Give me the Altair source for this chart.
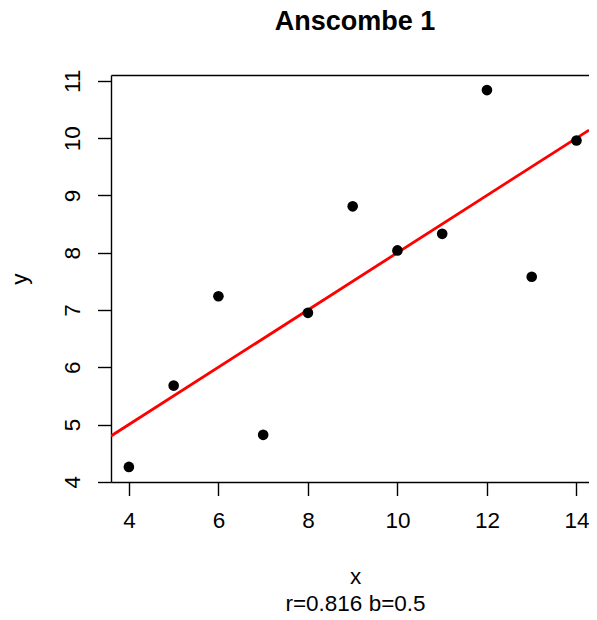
import altair as alt
import pandas as pd

# Anscombe quartet, set 1
x_vals = [10, 8, 13, 9, 11, 14, 6, 4, 12, 7, 5]
y_vals = [8.04, 6.95, 7.58, 8.81, 8.33, 9.96, 7.24, 4.26, 10.84, 4.82, 5.68]
x_ticks = [4, 6, 8, 10, 12, 14]
y_ticks = [4, 5, 6, 7, 8, 9, 10, 11]
x_domain = [3.6, 14.28]
y_domain = [3.9968, 11.1032]
main_title = "Anscombe 1"
x_title = "x"
sub_title = "r=0.816 b=0.5"
y_title = "y"

df = pd.DataFrame({"x": x_vals, "y": y_vals})

FONT = "Liberation Sans"
W, H = 478, 407
LW = 1.4

xs = alt.Scale(domain=x_domain, nice=False, zero=False)
ys = alt.Scale(domain=y_domain, nice=False, zero=False)

x_axis = alt.Axis(
    orient="bottom", values=x_ticks, grid=False,
    domain=True, domainColor="black", domainWidth=LW,
    ticks=True, tickSize=13.5, tickWidth=LW, tickColor="black",
    labelFont=FONT, labelFontSize=22.5, labelColor="black",
    labelBaseline="alphabetic", labelPadding=31.5, labelFlush=False,
    labelOverlap=False, labelBound=False,
    title=[x_title, sub_title], titleFont=FONT, titleFontSize=22.5,
    titleFontWeight="normal", titleColor="black", titleLineHeight=27,
    titleBaseline="alphabetic", titleAlign="center", titleX=244, titleY=101.5,
)
x_axis_top = alt.Axis(
    orient="top", grid=False, domain=True, domainColor="black", domainWidth=LW,
    ticks=False, labels=False, title=None,
)
y_axis = alt.Axis(
    orient="left", values=y_ticks, grid=False,
    domain=True, domainColor="black", domainWidth=LW,
    ticks=True, tickSize=13.5, tickWidth=LW, tickColor="black",
    labelFont=FONT, labelFontSize=22.5, labelColor="black",
    labelAngle=270, labelAlign="center", labelBaseline="alphabetic",
    labelPadding=18.2, labelFlush=False, labelOverlap=False, labelBound=False,
    title=y_title, titleFont=FONT, titleFontSize=22.5, titleFontWeight="normal",
    titleColor="black", titleAngle=270, titleAlign="center",
    titleBaseline="alphabetic", titleX=-84.7, titleY=H / 2,
)

base = alt.Chart(df)

points = base.mark_circle(size=113, color="black", opacity=1).encode(
    x=alt.X("x:Q", scale=xs, axis=x_axis),
    y=alt.Y("y:Q", scale=ys, axis=y_axis),
)

fit = base.transform_regression("x", "y", extent=x_domain).mark_line(
    color="red", strokeWidth=2.8, clip=True
).encode(
    x=alt.X("x:Q", scale=xs, axis=x_axis_top),
    y=alt.Y("y:Q", scale=ys, axis=y_axis),
)

chart = (
    alt.layer(fit, points)
    .resolve_axis(x="independent")
    .properties(
        width=W, height=H,
        autosize=alt.AutoSizeParams(type="none"),
        padding={"left": 103, "top": 67, "right": 0, "bottom": 138},
        title=alt.TitleParams(
            text=main_title, font=FONT, fontSize=27, fontWeight="bold",
            color="black", anchor="middle", frame="group",
            baseline="alphabetic", offset=12, dx=5,
        ),
    )
    .configure_view(stroke="transparent")
    .configure(background="white")
)

chart.save("out.html", embed_options={"renderer": "svg", "actions": False})
